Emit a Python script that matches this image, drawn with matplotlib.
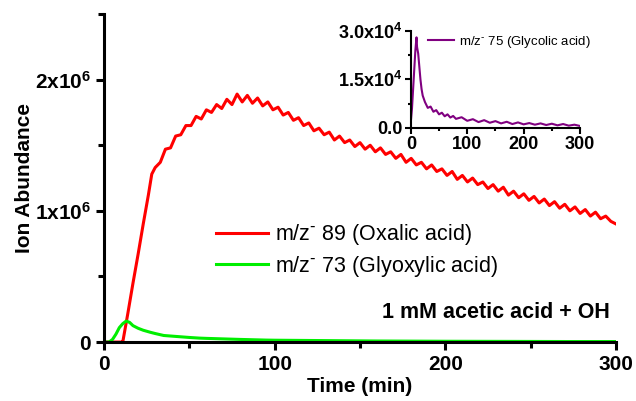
import matplotlib.pyplot as plt
import numpy as np

plt.rcParams["font.family"] = ["Liberation Sans", "DejaVu Sans"]
plt.rcParams["mathtext.default"] = "regular"

# Oxalic acid, m/z- 89 (ion abundance, x1e6)
ox_t = [0, 10, 11, 14, 17, 20, 23, 26, 28,
        30, 33, 36, 39, 42, 45, 48, 51, 54, 57, 60, 63, 66, 69, 72, 75, 78, 81, 84, 87, 90, 93, 96, 99,
        102, 105, 108, 111, 114, 117, 120, 123, 126, 129, 132, 135, 138, 141, 144, 147, 150, 153, 156,
        159, 162, 165, 168, 171, 174, 177, 180, 183, 186, 189, 192, 195, 198, 201, 204, 207, 210, 213,
        216, 219, 222, 225, 228, 231, 234, 237, 240, 243, 246, 249, 252, 255, 258, 261, 264, 267, 270,
        273, 276, 279, 282, 285, 288, 291, 294, 297, 300]
ox_v = [0, 0, 0, 0.22, 0.45, 0.67, 0.90, 1.12, 1.28,
        1.33, 1.37, 1.47, 1.48, 1.57, 1.58, 1.65, 1.65, 1.72, 1.70, 1.77, 1.75, 1.81, 1.78, 1.85, 1.81,
        1.89, 1.83, 1.88, 1.82, 1.86, 1.80, 1.83, 1.77, 1.79, 1.73, 1.75, 1.69, 1.71, 1.65, 1.67, 1.61,
        1.63, 1.58, 1.60, 1.54, 1.57, 1.52, 1.54, 1.49, 1.52, 1.47, 1.50, 1.45, 1.48, 1.43, 1.45, 1.40,
        1.43, 1.37, 1.40, 1.35, 1.37, 1.32, 1.35, 1.30, 1.32, 1.27, 1.30, 1.24, 1.27, 1.22, 1.25, 1.20,
        1.22, 1.17, 1.20, 1.15, 1.18, 1.12, 1.15, 1.10, 1.13, 1.08, 1.11, 1.06, 1.09, 1.04, 1.07, 1.02,
        1.05, 1.00, 1.03, 0.98, 1.01, 0.96, 0.99, 0.94, 0.96, 0.92, 0.90]

# Glyoxylic acid, m/z- 73 (x1e6)
gly_t = [0, 3, 5, 7, 9, 11, 13, 15, 17, 20, 23, 27, 30, 35, 40, 45, 50, 56, 60, 70, 80, 95, 100,
         120, 140, 160, 180, 200, 240, 270, 300]
gly_v = [0, 0, 0.02, 0.06, 0.11, 0.14, 0.16, 0.15, 0.125, 0.105, 0.09, 0.075, 0.065, 0.05, 0.045,
         0.04, 0.035, 0.03, 0.028, 0.024, 0.02, 0.015, 0.014, 0.012, 0.010, 0.008, 0.007, 0.006,
         0.005, 0.004, 0.004]

# Glycolic acid, m/z- 75 (x1e4)
gc_t = [0, 2, 4, 6, 8, 10, 11, 13, 15, 17, 19, 21, 25, 30, 35, 40, 45, 50, 55, 60, 65, 70, 75, 80,
        90, 100, 110, 120, 130, 140, 150, 160, 170, 180, 190, 200, 210, 220, 230, 240, 250, 260, 270,
        280, 290, 300]
gc_v = [0.2, 0.6, 1.2, 1.8, 2.4, 2.8, 2.5, 2.3, 1.9, 1.5, 1.2, 1.0, 0.8, 0.62, 0.66, 0.5, 0.55,
        0.42, 0.47, 0.36, 0.42, 0.32, 0.37, 0.28, 0.33, 0.22, 0.27, 0.18, 0.24, 0.16, 0.21, 0.14,
        0.19, 0.12, 0.17, 0.11, 0.15, 0.10, 0.14, 0.09, 0.13, 0.08, 0.12, 0.07, 0.10, 0.06]

fig = plt.figure(figsize=(6.36, 4.01), dpi=100)
ax = fig.add_axes([0.1635, 0.147, 0.805, 0.818])
ax.plot(ox_t, np.array(ox_v) * 1e6, color="#ff0000", lw=2.2, label=r"m/z$^{\text{-}}$ 89 (Oxalic acid)")
ax.plot(gly_t, np.array(gly_v) * 1e6, color="#00ee00", lw=2.2,
        label=r"m/z$^{\text{-}}$ 73 (Glyoxylic acid)")
ax.set_xlim(0, 300)
ax.set_ylim(0, 2.5e6)
ax.set_xticks([0, 100, 200, 300])
ax.set_xticks([50, 150, 250], minor=True)
ax.set_yticks([0, 1e6, 2e6])
ax.set_yticks([0.5e6, 1.5e6, 2.5e6], minor=True)
ax.set_yticklabels(["0", "1x10$^{6}$", "2x10$^{6}$"])
for s in ["top", "right"]:
    ax.spines[s].set_visible(False)
for s in ["left", "bottom"]:
    ax.spines[s].set_linewidth(2.2)
ax.tick_params(which="major", width=2.2, length=6, labelsize=15)
ax.tick_params(which="minor", width=2.2, length=4)
for lab in ax.get_xticklabels() + ax.get_yticklabels():
    lab.set_fontweight("bold")
ax.set_xlabel("Time (min)", fontsize=15, fontweight="bold", labelpad=2)
ax.set_ylabel("Ion Abundance", fontsize=15, fontweight="bold", labelpad=0.5)
ax.legend(loc="upper left", bbox_to_anchor=(0.219, 0.365), frameon=False, fontsize=15.5,
          borderaxespad=0, borderpad=0, handlelength=2.4, handletextpad=0.33, labelspacing=0.3)
ax.text(0.988, 0.091, "1 mM acetic acid + OH", transform=ax.transAxes, ha="right", va="center",
        fontsize=15.5, fontweight="bold")

ins = fig.add_axes([0.646, 0.681, 0.266, 0.242])
ins.plot(gc_t, np.array(gc_v) * 1e4, color="#800080", lw=1.5,
         label=r"m/z$^{\text{-}}$ 75 (Glycolic acid)")
ins.set_xlim(0, 300)
ins.set_ylim(0, 3e4)
ins.set_xticks([0, 100, 200, 300])
ins.set_xticks([50, 150, 250], minor=True)
ins.set_yticks([0, 1.5e4, 3e4])
ins.set_yticks([0.75e4, 2.25e4], minor=True)
ins.set_yticklabels(["0.0", "1.5x10$^{4}$", "3.0x10$^{4}$"])
for s in ["top", "right"]:
    ins.spines[s].set_visible(False)
for s in ["left", "bottom"]:
    ins.spines[s].set_linewidth(1.5)
ins.tick_params(which="major", width=1.5, length=4, labelsize=13, pad=2)
ins.tick_params(which="minor", width=1.5, length=2.5)
for lab in ins.get_xticklabels() + ins.get_yticklabels():
    lab.set_fontweight("bold")
ins.legend(loc="upper left", bbox_to_anchor=(0.1, 0.97), frameon=False, fontsize=9.5,
           borderaxespad=0, borderpad=0, handlelength=2.0, handletextpad=0.4)

fig.savefig("out.png", dpi=100)
